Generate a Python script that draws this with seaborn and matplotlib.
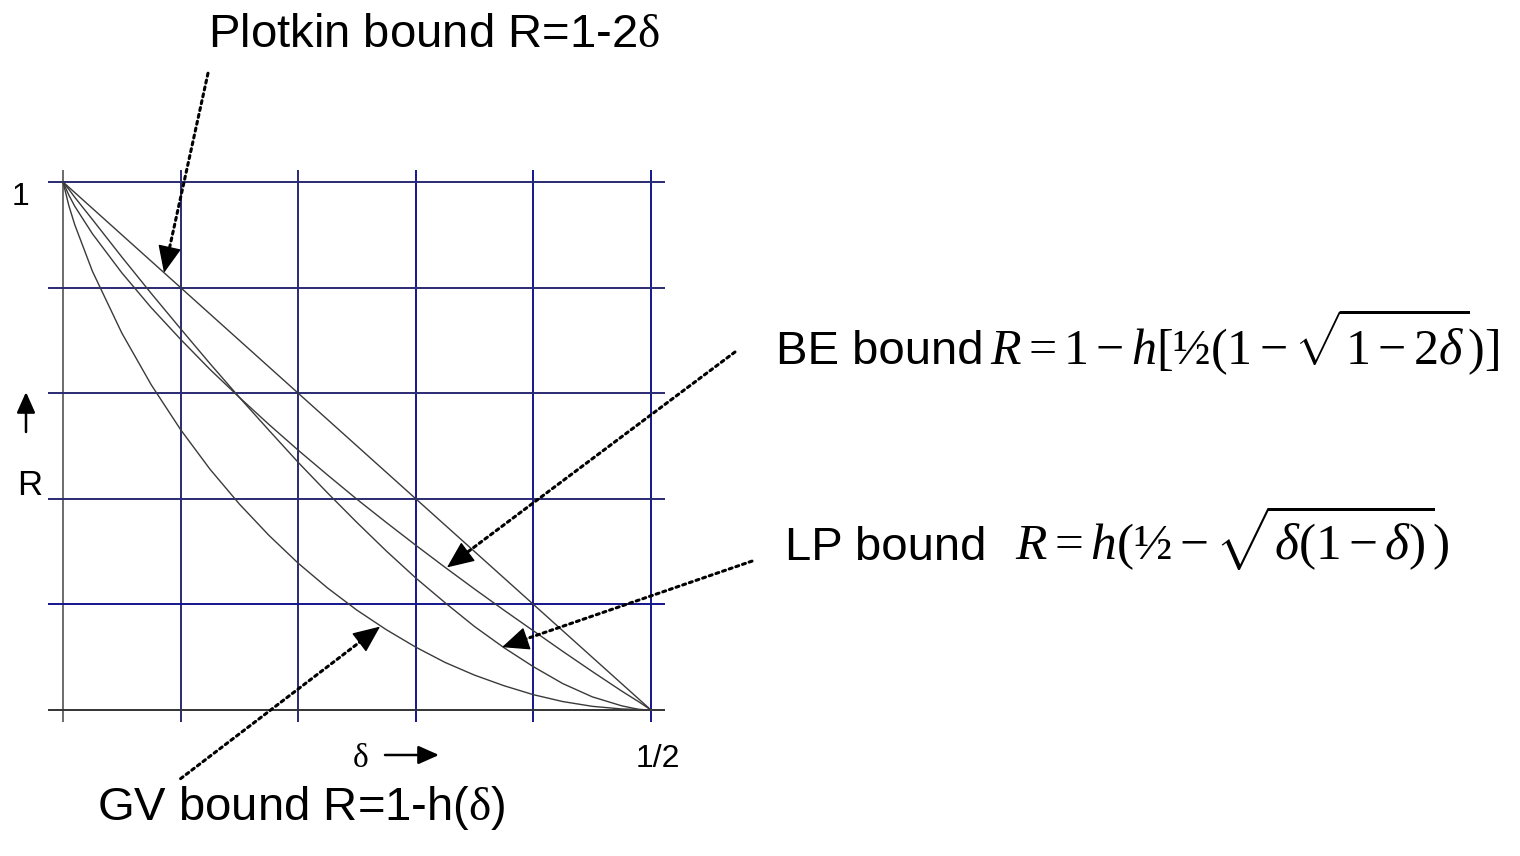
import matplotlib
matplotlib.use("Agg")
import numpy as np
import matplotlib.pyplot as plt
from matplotlib.patches import FancyArrowPatch
import seaborn as sns

# Relative distance (delta) at which the bounds are tabulated
delta = [0.0, 0.005, 0.01, 0.025, 0.05, 0.075, 0.1, 0.125, 0.15, 0.175, 0.2,
         0.225, 0.25, 0.275, 0.3, 0.325, 0.35, 0.375, 0.4, 0.425, 0.45,
         0.475, 0.49, 0.5]

# Rate R for each bound
rate_gv = [1.0, 0.955, 0.919, 0.831, 0.714, 0.616, 0.531, 0.456, 0.390, 0.331,
           0.278, 0.231, 0.189, 0.152, 0.119, 0.090, 0.066, 0.046, 0.029,
           0.016, 0.007, 0.002, 0.001, 0.0]
rate_be = [1.0, 0.975, 0.954, 0.902, 0.828, 0.762, 0.702, 0.645, 0.592, 0.541,
           0.492, 0.445, 0.399, 0.355, 0.312, 0.270, 0.229, 0.189, 0.150,
           0.111, 0.073, 0.036, 0.015, 0.0]
rate_lp = [1.0, 0.986, 0.971, 0.929, 0.858, 0.789, 0.722, 0.656, 0.592, 0.530,
           0.469, 0.411, 0.355, 0.301, 0.250, 0.203, 0.158, 0.118, 0.082,
           0.050, 0.025, 0.008, 0.001, 0.0]
plotkin_delta = [0.0, 0.5]
rate_plotkin = [1.0, 0.0]

grid_x = [0.0, 0.1, 0.2, 0.3, 0.4, 0.5]
grid_y = [0.0, 0.2, 0.4, 0.6, 0.8, 1.0]

sns.set_style("white")
plt.rcParams["font.family"] = ["Liberation Sans", "DejaVu Sans"]
plt.rcParams["text.color"] = "black"
plt.rcParams["mathtext.fontset"] = "custom"
plt.rcParams["mathtext.rm"] = "Liberation Serif"
plt.rcParams["mathtext.it"] = "Liberation Serif:italic"
plt.rcParams["mathtext.bf"] = "Liberation Serif:bold"

W, H = 1520, 856
fig = plt.figure(figsize=(W / 100, H / 100), dpi=100)
fig.patch.set_facecolor("white")

# axes box in pixels: left 48, right 665, top 170, bottom 722
ax = fig.add_axes([48 / W, (H - 722) / H, 617 / W, 552 / H])
ax.set_xlim(-0.01276, 0.5119)
ax.set_ylim(-0.0227, 1.0227)
ax.set_axis_off()

navy = "#2a2a74"
blue = "#14148e"
x_colors = ["#6b6b6b", navy, navy, blue, blue, blue]
y_colors = ["#333333", blue, navy, navy, navy, navy]
for gx, c in zip(grid_x, x_colors):
    ax.axvline(gx, color=c, lw=1.4, zorder=1)
for gy, c in zip(grid_y, y_colors):
    ax.axhline(gy, color=c, lw=1.4, zorder=1)

curve_kw = dict(color="#3a3a3a", lw=1.0, sort=False, estimator=None,
                legend=False, ax=ax, zorder=3)
sns.lineplot(x=plotkin_delta, y=rate_plotkin, **curve_kw)
sns.lineplot(x=delta, y=rate_be, **curve_kw)
sns.lineplot(x=delta, y=rate_lp, **curve_kw)
sns.lineplot(x=delta, y=rate_gv, **curve_kw)

# dotted pointers from the labels to the curves, each with a solid head
dotted = dict(arrowstyle="-", ls=(0, (1, 1.3)), lw=2.2, color="black",
              shrinkA=0, shrinkB=8)
head = dict(arrowstyle="-|>,head_length=1.15,head_width=0.5", lw=1.0,
            color="black", mutation_scale=15, shrinkA=0, shrinkB=0)
for tip, start in [((0.0859, 0.828), (0.1233, 1.206)),
                   ((0.3265, 0.270), (0.5714, 0.678)),
                   ((0.3733, 0.119), (0.5859, 0.282)),
                   ((0.2696, 0.158), (0.1000, -0.130))]:
    ax.annotate("", xy=tip, xytext=start, xycoords="data",
                textcoords="data", arrowprops=dotted,
                annotation_clip=False, zorder=5)
    p_tip = ax.transData.transform(tip)
    p_start = ax.transData.transform(start)
    d = (p_tip - p_start) / np.hypot(*(p_tip - p_start))
    ax.annotate("", xy=tip, xytext=tuple(-d * 24), xycoords="data",
                textcoords="offset pixels", arrowprops=head,
                annotation_clip=False, zorder=6)


def px(x, y):
    return x / W, 1 - y / H


big = 34
fig.text(*px(208, 47), r"Plotkin bound R=1-2$\mathrm{\delta}$", fontsize=big,
         ha="left", va="baseline")
fig.text(*px(97, 820), r"GV bound R=1-h($\mathrm{\delta}$)", fontsize=big,
         ha="left", va="baseline")
fig.text(*px(776, 364), "BE bound", fontsize=big, ha="left", va="baseline")
fig.text(*px(990, 364), r"$R=1-h[\mathrm{½}(1-\sqrt{1-2\delta})]$",
         fontsize=36, ha="left", va="baseline")
fig.text(*px(785, 560), "LP bound", fontsize=big, ha="left", va="baseline")
fig.text(*px(1015, 560), r"$R=h(\mathrm{½}-\sqrt{\delta(1-\delta)})$",
         fontsize=37, ha="left", va="baseline")

# axis annotations
fig.text(*px(12, 205), "1", fontsize=23, ha="left", va="baseline")
fig.text(*px(17, 495), "R", fontsize=25, ha="left", va="baseline")
fig.text(*px(636, 767), "1/2", fontsize=23, ha="left", va="baseline")
fig.text(*px(353, 767), "δ", fontsize=24, ha="left", va="baseline",
         family="Liberation Serif")

solid = dict(arrowstyle="-|>,head_length=0.9,head_width=0.4", lw=1.8,
             color="black", mutation_scale=14, shrinkA=0, shrinkB=0)
fig.add_artist(FancyArrowPatch(px(26, 432), px(26, 392),
                               transform=fig.transFigure, **solid))
fig.add_artist(FancyArrowPatch(px(385, 755), px(439, 755),
                               transform=fig.transFigure, **solid))

fig.savefig("out.png", dpi=100)
